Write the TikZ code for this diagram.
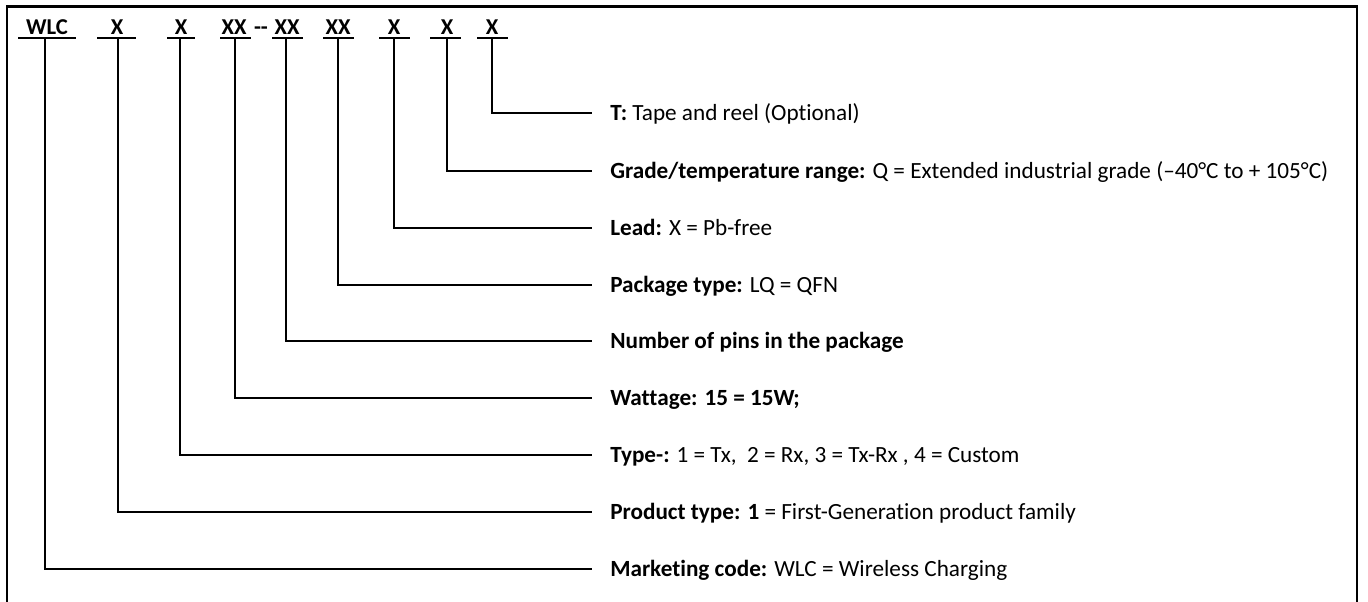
\documentclass[tikz,border=0pt]{standalone}
\usepackage{fontspec}
\setmainfont{Carlito}[Ligatures=NoCommon]
\begin{document}
\begin{tikzpicture}[x=0.75pt,y=-0.75pt,
  hdr/.style={font=\bfseries\fontsize{17}{20}\selectfont, anchor=base, inner sep=0pt},
  lbl/.style={font=\fontsize{17.4}{21}\selectfont, anchor=west, inner xsep=13.5pt, inner ysep=0pt, text height=11.2pt, text depth=0pt},
  conn/.style={line width=1pt},
  uline/.style={line width=1.3pt},
  frame/.style={line width=1.6pt}]
\useasboundingbox (0,0) rectangle (1368,601);
\clip (0,0) rectangle (1368,601);
\draw[frame] (7,6.5) rectangle (1357,640);

% header codes
\node[hdr] (h1) at (47,34) {WLC};
\node[hdr] (h2) at (117,34) {X};
\node[hdr] (h3) at (181,34) {X};
\node[hdr] (h4) at (234,34) {XX};
\node[hdr] (dsh) at (261,34) {{-}{-}};
\node[hdr] (h5) at (287,34) {XX};
\node[hdr] (h6) at (338,34) {XX};
\node[hdr] (h7) at (394,34) {X};
\node[hdr] (h8) at (447,34) {X};
\node[hdr] (h9) at (492,34) {X};

% underlines
\coordinate (a1) at (18,38);  \coordinate (b1) at (76,38);
\coordinate (a2) at (97,38);  \coordinate (b2) at (136,38);
\coordinate (a3) at (167,38); \coordinate (b3) at (195,38);
\coordinate (a4) at (220,38); \coordinate (b4) at (251,38);
\coordinate (a5) at (272,38); \coordinate (b5) at (303,38);
\coordinate (a6) at (323,38); \coordinate (b6) at (354,38);
\coordinate (a7) at (379,38); \coordinate (b7) at (410,38);
\coordinate (a8) at (430,38); \coordinate (b8) at (461,38);
\coordinate (a9) at (477,38); \coordinate (b9) at (508,38);
\foreach \i in {1,...,9} {\draw[uline] (a\i) -- (b\i);}

% connector start points
\coordinate (u1) at (45,38);
\coordinate (u2) at (118,38);
\coordinate (u3) at (180,38);
\coordinate (u4) at (235,38);
\coordinate (u5) at (286,38);
\coordinate (u6) at (338,38);
\coordinate (u7) at (394,38);
\coordinate (u8) at (447,38);
\coordinate (u9) at (492,38);

% labels
\node[lbl] (m9) at (592,113) {\textbf{T:} Tape and reel (Optional)};
\node[lbl] (m8) at (592,171) {\textbf{Grade/temperature range:} Q = Extended industrial grade (–40°C to + 105°C)};
\node[lbl] (m7) at (592,228) {\textbf{Lead:} X = Pb-free};
\node[lbl] (m6) at (592,285) {\textbf{Package type:} LQ = QFN};
\node[lbl] (m5) at (592,341) {\textbf{Number of pins in the package}};
\node[lbl] (m4) at (592,398) {\textbf{Wattage: 15 = 15W;}};
\node[lbl] (m3) at (592,455) {\textbf{Type-:} 1 = Tx,\ \ 2 = Rx, 3 = Tx-Rx , 4 = Custom};
\node[lbl] (m2) at (592,512) {\textbf{Product type: 1} = First-Generation product family};
\node[lbl] (m1) at (592,569) {\textbf{Marketing code:} WLC = Wireless Charging};

\foreach \i in {1,...,9} {\draw[conn] (u\i) |- (m\i.west);}
\end{tikzpicture}
\end{document}
